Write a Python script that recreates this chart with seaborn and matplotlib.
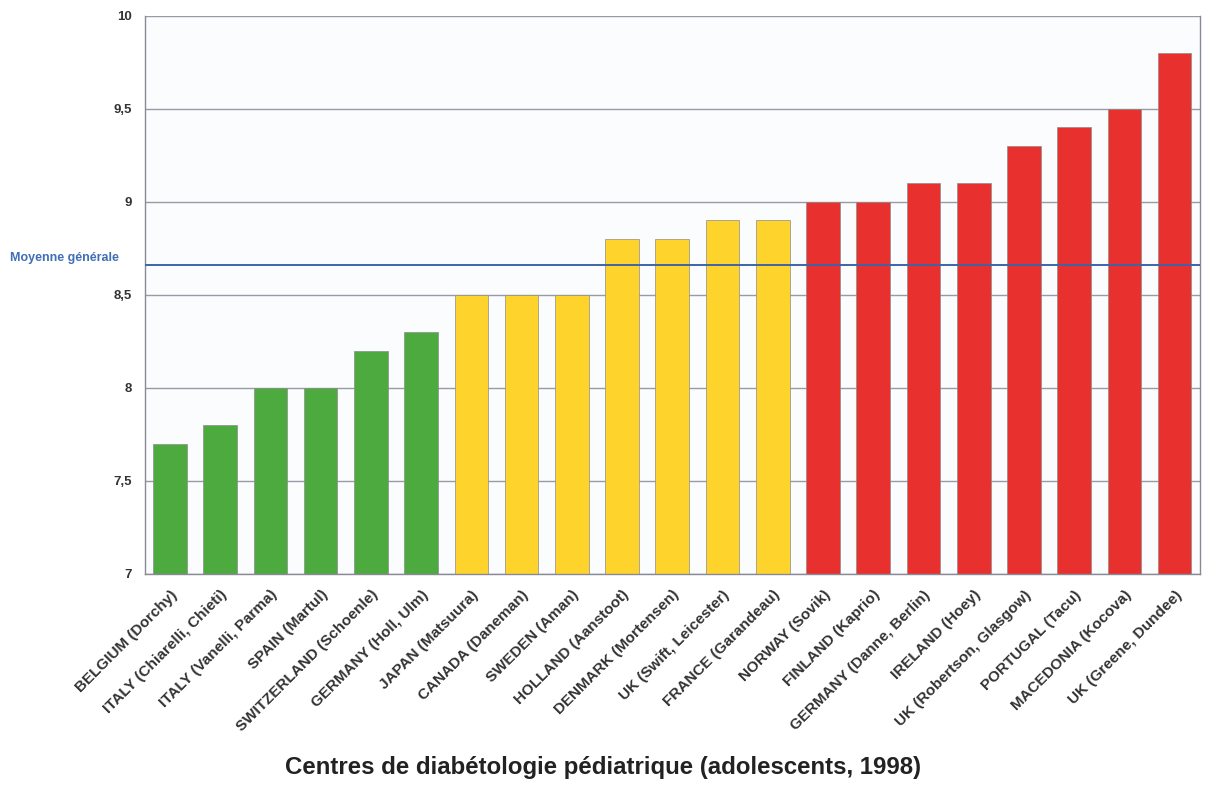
import matplotlib
matplotlib.use("Agg")
import matplotlib.pyplot as plt
import seaborn as sns
import pandas as pd

centres = [
    "BELGIUM (Dorchy)", "ITALY (Chiarelli, Chieti)", "ITALY (Vanelli, Parma)",
    "SPAIN (Martul)", "SWITZERLAND (Schoenle)", "GERMANY (Holl, Ulm)",
    "JAPAN (Matsuura)", "CANADA (Daneman)", "SWEDEN (Aman)",
    "HOLLAND (Aanstoot)", "DENMARK (Mortensen)", "UK (Swift, Leicester)",
    "FRANCE (Garandeau)", "NORWAY (Sovik)", "FINLAND (Kaprio)",
    "GERMANY (Danne, Berlin)", "IRELAND (Hoey)", "UK (Robertson, Glasgow)",
    "PORTUGAL (Tacu)", "MACEDONIA (Kocova)", "UK (Greene, Dundee)",
]
hba1c = [7.7, 7.8, 8.0, 8.0, 8.2, 8.3,
         8.5, 8.5, 8.5, 8.8, 8.8, 8.9, 8.9,
         9.0, 9.0, 9.1, 9.1, 9.3, 9.4, 9.5, 9.8]
groups = ["bas"] * 6 + ["moyen"] * 7 + ["haut"] * 8
mean_value = 8.66
y_ticks = [7, 7.5, 8, 8.5, 9, 9.5, 10]
y_tick_labels = ["7", "7,5", "8", "8,5", "9", "9,5", "10"]

palette = {"bas": "#4caa3f", "moyen": "#fed42c", "haut": "#e8312f"}

sns.set_style("white")
plt.rcParams["font.family"] = ["Liberation Sans", "DejaVu Sans"]

df = pd.DataFrame({"centre": centres, "valeur": hba1c, "groupe": groups})

fig = plt.figure(figsize=(12.07, 7.85), dpi=100)
ax = fig.add_axes([0.12, 0.269, 0.874, 0.711])
ax.set_facecolor("#fbfcfe")

sns.barplot(data=df, x="centre", y="valeur", hue="groupe", palette=palette,
            dodge=False, width=0.67, saturation=1, edgecolor="#8c8c8c",
            linewidth=0.5, legend=False, ax=ax)
# bars rise from the floor of the axis (7) instead of zero
for patch in ax.patches:
    h = patch.get_height()
    if h > 0:
        patch.set_y(7)
        patch.set_height(h - 7)

ax.set_ylim(7, 10)
ax.set_xlim(-0.5, len(centres) - 0.5)
ax.set_yticks(y_ticks)
ax.set_yticklabels(y_tick_labels, fontsize=9.5, fontweight="bold", color="#333333")
ax.yaxis.grid(True, color="#9a9aa6", linewidth=1.0)
ax.set_axisbelow(True)
ax.tick_params(axis="y", length=4, color="#888888", pad=5)
ax.tick_params(axis="x", length=3, color="#9aa0c0", pad=7)

ax.set_xticks(range(len(centres)))
ax.set_xticklabels(centres, rotation=45, ha="right", rotation_mode="anchor",
                   fontsize=11, fontweight="bold", color="#333333")

for s in ["left", "bottom", "right", "top"]:
    ax.spines[s].set_color("#8a8a96")
    ax.spines[s].set_linewidth(1.0)
ax.spines["top"].set_visible(False)

ax.axhline(mean_value, color="#3d64a8", linewidth=1.4, zorder=3)
ax.text(-0.128, mean_value + 0.005, "Moyenne générale",
        transform=ax.get_yaxis_transform(), ha="left", va="bottom",
        fontsize=9, fontweight="bold", color="#3f6fb4")

ax.set_xlabel("")
ax.set_ylabel("")
fig.text(0.5, 0.022, "Centres de diabétologie pédiatrique (adolescents, 1998)",
         ha="center", va="center", fontsize=17.3, fontweight="bold", color="#222222")

fig.savefig("out.png", dpi=100)
